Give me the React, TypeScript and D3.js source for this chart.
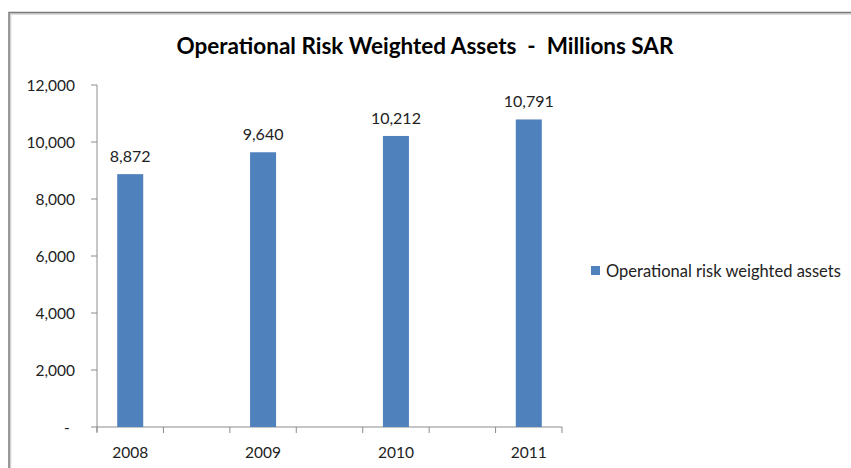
import React, { useEffect, useRef } from "react";
import * as d3 from "d3";

const years = ["2008", "2009", "2010", "2011"];
const values = [8872, 9640, 10212, 10791];
const yTicks = [0, 2000, 4000, 6000, 8000, 10000, 12000];
const seriesName = "Operational risk weighted assets";
const title = "Operational Risk Weighted Assets  -  Millions SAR";

const FONT = "Lato, 'Open Sans', sans-serif";

export default function App() {
  const ref = useRef<SVGSVGElement>(null);
  useEffect(() => {
    const svg = d3.select(ref.current);
    svg.selectAll("*").remove();
    const W = 851, H = 468;
    const x = d3.scaleLinear().domain([-0.25, 3.25]).range([97, 562]);
    const y = d3.scaleLinear().domain([0, 12000]).range([427, 85]);
    const barW = 26;

    svg.append("rect").attr("width", W).attr("height", H).attr("fill", "#fff");
    // chart border
    svg.append("path").attr("d", `M10.5,${H} V14 H${W}`).attr("fill", "none").attr("stroke", "#d0d0d0").attr("stroke-width", 1.5);
    svg.append("path").attr("d", `M9,${H} V12.5 H${W}`).attr("fill", "none").attr("stroke", "#7a7a7a").attr("stroke-width", 1.5);

    svg.append("text").attr("x", 425).attr("y", 54).attr("text-anchor", "middle")
      .attr("font-family", FONT).attr("font-weight", "bold").attr("font-size", 22.5).attr("fill", "#000")
      .attr("xml:space", "preserve").text(title);

    // y axis
    svg.append("line").attr("x1", 97).attr("x2", 97).attr("y1", y(12000)).attr("y2", 432).attr("stroke", "#8c8c8c");
    const yg = svg.append("g");
    yTicks.forEach((t) => {
      yg.append("line").attr("x1", 91).attr("x2", 97).attr("y1", y(t)).attr("y2", y(t)).attr("stroke", "#8c8c8c");
      yg.append("text").attr("x", t === 0 ? 67 : 75).attr("y", y(t) + 5.5)
        .attr("text-anchor", t === 0 ? "middle" : "end")
        .attr("font-family", FONT).attr("font-size", 15.5).attr("fill", "#222")
        .text(t === 0 ? "-" : d3.format(",")(t));
    });

    // x axis
    svg.append("line").attr("x1", 97).attr("x2", 562).attr("y1", 427).attr("y2", 427).attr("stroke", "#8c8c8c");
    d3.range(-0.25, 3.26, 0.5).forEach((t) => {
      svg.append("line").attr("x1", x(t)).attr("x2", x(t)).attr("y1", 427).attr("y2", 433).attr("stroke", "#8c8c8c");
    });
    years.forEach((yr, i) => {
      svg.append("text").attr("x", x(i)).attr("y", 458).attr("text-anchor", "middle")
        .attr("font-family", FONT).attr("font-size", 15.5).attr("fill", "#222").text(yr);
    });

    // bars
    values.forEach((v, i) => {
      svg.append("rect").attr("x", x(i) - barW / 2).attr("y", y(v)).attr("width", barW).attr("height", y(0) - y(v))
        .attr("fill", "#4f81bd");
      svg.append("text").attr("x", x(i)).attr("y", y(v) - 12).attr("text-anchor", "middle")
        .attr("font-family", FONT).attr("font-size", 16).attr("fill", "#222").text(d3.format(",")(v));
    });

    // legend
    svg.append("rect").attr("x", 591).attr("y", 266).attr("width", 9).attr("height", 9).attr("fill", "#4f81bd");
    svg.append("text").attr("x", 606).attr("y", 277).attr("font-family", FONT).attr("font-size", 16.5).attr("fill", "#222").text(seriesName);
  }, []);
  return <svg ref={ref} width={851} height={468} style={{ display: "block", position: "absolute", left: 0, top: 0 }} />;
}
